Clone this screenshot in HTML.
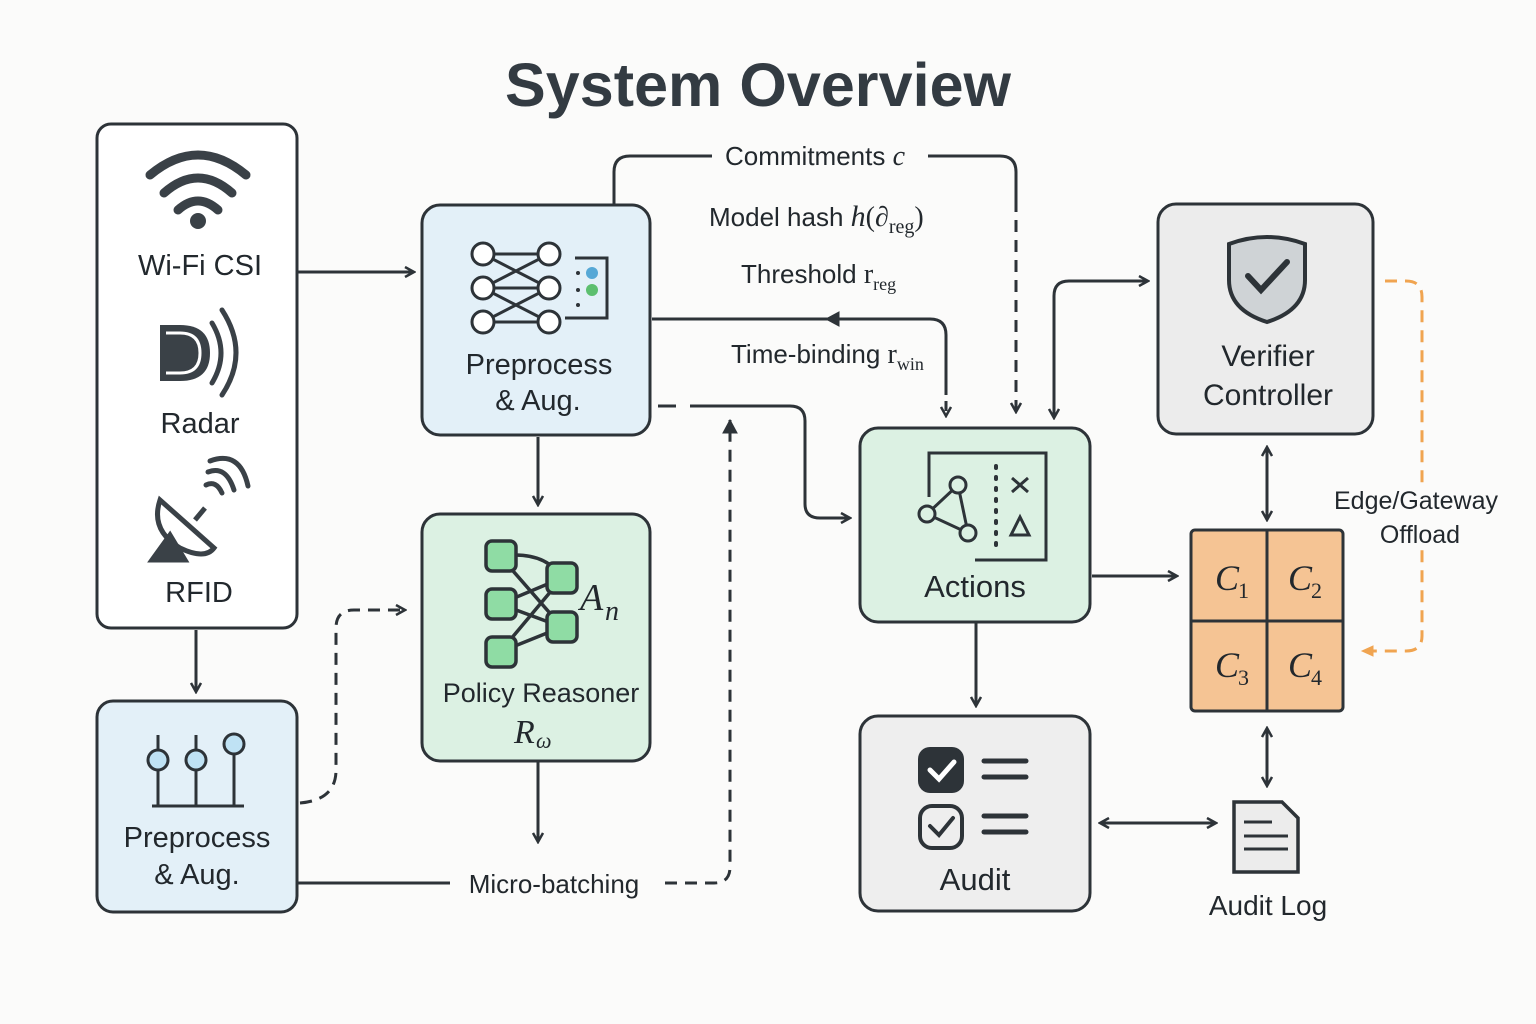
<!DOCTYPE html>
<html><head><meta charset="utf-8"><style>
html,body{margin:0;padding:0;background:#fbfbfa;}
svg{display:block}
text{font-family:"Liberation Sans",sans-serif;fill:#22282d}
.m{font-family:"Liberation Serif",serif;font-style:italic}
.r{font-family:"Liberation Serif",serif;font-style:normal}
</style></head><body>
<svg width="1536" height="1024" viewBox="0 0 1536 1024" xmlns="http://www.w3.org/2000/svg">
<defs>
<marker id="a" viewBox="0 0 12 12" refX="10" refY="6" markerWidth="12" markerHeight="12" markerUnits="userSpaceOnUse" orient="auto-start-reverse">
<path d="M1,1 L10,6 L1,11" fill="none" stroke="#2d3338" stroke-width="2.5"/></marker>
<marker id="t" viewBox="0 0 14 14" refX="12" refY="7" markerWidth="16" markerHeight="16" markerUnits="userSpaceOnUse" orient="auto-start-reverse">
<path d="M0,0 L13,7 L0,14Z" fill="#2d3338"/></marker>
<marker id="o" viewBox="0 0 12 12" refX="10" refY="6" markerWidth="14" markerHeight="14" markerUnits="userSpaceOnUse" orient="auto">
<path d="M0,1 L11,6 L0,11Z" fill="#f0a450"/></marker>
</defs>
<rect width="1536" height="1024" fill="#fbfbfa"/>
<text x="758" y="106" text-anchor="middle" font-size="61" font-weight="bold" style="fill:#333b42" textLength="506">System Overview</text>

<g stroke="#2d3338" stroke-width="3" fill="none">
<rect x="97" y="124" width="200" height="504" rx="14" fill="#fff"/>
<rect x="422" y="205" width="228" height="230" rx="18" fill="#e3f0f8"/>
<rect x="422" y="514" width="228" height="247" rx="18" fill="#dcf1e3"/>
<rect x="97" y="701" width="200" height="211" rx="16" fill="#e3f0f8"/>
<rect x="860" y="428" width="230" height="194" rx="18" fill="#dcf1e3"/>
<rect x="860" y="716" width="230" height="195" rx="18" fill="#eeeeee"/>
<rect x="1158" y="204" width="215" height="230" rx="18" fill="#ececec"/>
<rect x="1191" y="530" width="152" height="181" rx="4" fill="#f5c494"/>
<line x1="1267" y1="530" x2="1267" y2="711"/><line x1="1191" y1="621" x2="1343" y2="621"/>
</g>

<g stroke="#2d3338" stroke-width="3" fill="none">
<line x1="298" y1="272" x2="414" y2="272" marker-end="url(#a)"/>
<path d="M614,205 V172 Q614,156 630,156 H712"/>
<path d="M928,156 H1000 Q1016,156 1016,172 V200"/>
<path d="M1016,200 V412" stroke-dasharray="12,8" marker-end="url(#a)"/>
<path d="M652,319 H930 Q946,319 946,335 V385"/>
<path d="M946,385 V416" stroke-dasharray="10,6" marker-end="url(#a)"/>
<line x1="840" y1="319" x2="826" y2="319" marker-end="url(#t)"/>
<path d="M658,406 H676" />
<path d="M690,406 H790 Q805,406 805,421 V504 Q805,518 820,518 H850" marker-end="url(#a)"/>
<path d="M665,883 H714 Q730,883 730,867 V420" stroke-dasharray="12,8" marker-end="url(#t)"/>
<line x1="298" y1="883" x2="450" y2="883"/>
<line x1="538" y1="437" x2="538" y2="505" marker-end="url(#a)"/>
<line x1="538" y1="762" x2="538" y2="842" marker-end="url(#a)"/>
<line x1="196" y1="630" x2="196" y2="692" marker-end="url(#a)"/>
<path d="M300,803 Q336,800 336,770 V628 Q336,610 354,610 H405" stroke-dasharray="12,8" marker-end="url(#a)"/>
<path d="M1054,418 V296 Q1054,281 1069,281 H1148" marker-start="url(#a)" marker-end="url(#a)"/>
<line x1="1092" y1="576" x2="1177" y2="576" marker-end="url(#a)"/>
<line x1="976" y1="623" x2="976" y2="706" marker-end="url(#a)"/>
<line x1="1267" y1="447" x2="1267" y2="520" marker-start="url(#a)" marker-end="url(#a)"/>
<line x1="1267" y1="728" x2="1267" y2="786" marker-start="url(#a)" marker-end="url(#a)"/>
<line x1="1100" y1="823" x2="1216" y2="823" marker-start="url(#a)" marker-end="url(#a)"/>
</g>
<path d="M1385,281 H1406 Q1422,281 1422,297 V636 Q1422,651 1406,651 H1362" fill="none" stroke="#f0a450" stroke-width="3" stroke-dasharray="12,8" marker-end="url(#o)"/>
<rect x="1405" y="484" width="34" height="66" fill="#fbfbfa"/>

<text x="725" y="165" font-size="26">Commitments <tspan class="m" font-size="28">c</tspan></text>
<text x="709" y="226" font-size="26">Model hash <tspan class="m" font-size="30">h</tspan><tspan class="r" font-size="28">(</tspan><tspan class="m" font-size="28">∂</tspan><tspan class="r" font-size="20" dy="7">reg</tspan><tspan class="r" font-size="28" dy="-7">)</tspan></text>
<text x="741" y="283" font-size="26">Threshold <tspan class="r" font-size="28">r</tspan><tspan class="r" font-size="18" dy="7">reg</tspan></text>
<text x="731" y="363" font-size="26">Time-binding <tspan class="r" font-size="28">r</tspan><tspan class="r" font-size="18" dy="7">win</tspan></text>
<text x="554" y="893" font-size="26" text-anchor="middle">Micro-batching</text>
<text x="1416" y="509" font-size="25" text-anchor="middle">Edge/Gateway</text>
<text x="1420" y="543" font-size="25" text-anchor="middle">Offload</text>

<text x="200" y="275" font-size="29" text-anchor="middle">Wi-Fi CSI</text>
<text x="200" y="433" font-size="29" text-anchor="middle">Radar</text>
<text x="199" y="602" font-size="29" text-anchor="middle">RFID</text>
<text x="539" y="374" font-size="29" text-anchor="middle">Preprocess</text>
<text x="538" y="410" font-size="29" text-anchor="middle">&amp; Aug.</text>
<text x="541" y="702" font-size="27" text-anchor="middle">Policy Reasoner</text>
<text x="514" y="743" class="m" font-size="34">R</text><text x="536" y="748" class="m" font-size="22">ω</text>
<text x="580" y="610" class="m" font-size="38">A</text><text x="605" y="620" class="m" font-size="28">n</text>
<text x="197" y="847" font-size="29" text-anchor="middle">Preprocess</text>
<text x="197" y="884" font-size="29" text-anchor="middle">&amp; Aug.</text>
<text x="975" y="597" font-size="31" text-anchor="middle">Actions</text>
<text x="975" y="890" font-size="31" text-anchor="middle">Audit</text>
<text x="1268" y="366" font-size="30" text-anchor="middle">Verifier</text>
<text x="1268" y="405" font-size="30" text-anchor="middle">Controller</text>
<text x="1268" y="915" font-size="28" text-anchor="middle">Audit Log</text>
<text x="1215" y="590" class="m" font-size="36">C</text><text x="1238" y="598" class="r" font-size="22">1</text>
<text x="1288" y="590" class="m" font-size="36">C</text><text x="1311" y="598" class="r" font-size="22">2</text>
<text x="1215" y="677" class="m" font-size="36">C</text><text x="1238" y="685" class="r" font-size="22">3</text>
<text x="1288" y="677" class="m" font-size="36">C</text><text x="1311" y="685" class="r" font-size="22">4</text>

<g stroke="#3a4147" fill="none" stroke-width="9" stroke-linecap="round">
<path d="M150,175 Q198,135 246,175"/><path d="M164,193 Q198,163 232,193"/><path d="M178,210 Q198,192 218,210"/>
</g>
<circle cx="198" cy="221" r="8" fill="#3a4147"/>
<path d="M160,325 H180 Q210,325 210,353 Q210,381 180,381 H160Z" fill="#3a4147"/>
<path d="M166,333 H180 Q200,333 200,353 Q200,373 180,373 H166" fill="none" stroke="#fff" stroke-width="3"/>
<g stroke="#3a4147" fill="none" stroke-width="5" stroke-linecap="round">
<path d="M212,323 Q230,353 212,383"/><path d="M222,310 Q250,353 222,395"/>
<path d="M206,485 Q216,480 222,493"/><path d="M208,472 Q226,465 234,490"/><path d="M210,461 Q240,450 248,486"/>
</g>
<path d="M160,500 Q150,530 180,548 Q205,560 214,548Z" fill="none" stroke="#3a4147" stroke-width="5"/>
<path d="M152,560 L170,535 L185,560Z M195,520 L205,508" fill="#3a4147" stroke="#3a4147" stroke-width="5"/>

<g stroke="#2d3338" stroke-width="3" fill="none">
<path d="M483,254 L549,254 M483,254 L549,288 M483,288 L549,254 M483,288 L549,322 M483,322 L549,288 M483,322 L549,322 M483,288 L549,288"/>
<circle cx="483" cy="254" r="11" fill="#fff"/><circle cx="483" cy="288" r="11" fill="#fff"/><circle cx="483" cy="322" r="11" fill="#fff"/>
<circle cx="549" cy="254" r="11" fill="#fff"/><circle cx="549" cy="288" r="11" fill="#fff"/><circle cx="549" cy="322" r="11" fill="#fff"/>
<path d="M575,258 H607 V318 H565"/>
</g>
<circle cx="592" cy="273" r="6" fill="#56a8d6"/><circle cx="592" cy="290" r="6" fill="#5cbf6f"/>
<circle cx="578" cy="273" r="2" fill="#2d3338"/><circle cx="578" cy="290" r="2" fill="#2d3338"/><circle cx="578" cy="305" r="2" fill="#2d3338"/>

<g stroke="#2d3338" stroke-width="3.5" fill="none">
<path d="M500,556 Q545,550 562,578 M500,604 L562,627 M500,604 L562,578 M500,652 L562,627 M500,652 L562,578 M500,556 L562,627"/>
<g fill="#8fdca4"><rect x="486" y="541" width="30" height="30" rx="6"/><rect x="486" y="589" width="30" height="30" rx="6"/><rect x="486" y="637" width="30" height="30" rx="6"/><rect x="547" y="563" width="30" height="30" rx="6"/><rect x="547" y="612" width="30" height="30" rx="6"/></g>
</g>

<g stroke="#2d3338" stroke-width="3" fill="none">
<path d="M929,497 V453 H1046 V560 H975"/>
<path d="M958,485 L927,514 L968,533Z"/>
<circle cx="958" cy="485" r="8" fill="#dcf1e3"/><circle cx="927" cy="514" r="8" fill="#dcf1e3"/><circle cx="968" cy="533" r="8" fill="#dcf1e3"/>
<path d="M996,466 V550" stroke-dasharray="2,9" stroke-width="4" stroke-linecap="round"/>
<path d="M1012,478 L1028,492 M1028,478 L1012,492 M1020,517 L1011,535 H1029Z"/>
</g>

<path d="M1229,244 Q1267,230 1305,244 V280 Q1305,310 1267,322 Q1229,310 1229,280Z" fill="#cfd3d6" stroke="#2d3338" stroke-width="4"/>
<path d="M1248,276 L1261,290 L1287,262" fill="none" stroke="#2d3338" stroke-width="6" stroke-linecap="round"/>

<rect x="918" y="747" width="46" height="46" rx="12" fill="#2d3338"/>
<path d="M930,770 L939,779 L954,762" fill="none" stroke="#fff" stroke-width="5" stroke-linecap="round"/>
<rect x="920" y="806" width="42" height="42" rx="12" fill="none" stroke="#2d3338" stroke-width="4"/>
<path d="M930,826 L939,835 L953,818" fill="none" stroke="#2d3338" stroke-width="4" stroke-linecap="round"/>
<g stroke="#2d3338" stroke-width="5" stroke-linecap="round"><line x1="984" y1="761" x2="1026" y2="761"/><line x1="984" y1="777" x2="1026" y2="777"/><line x1="984" y1="816" x2="1026" y2="816"/><line x1="984" y1="832" x2="1026" y2="832"/></g>

<path d="M1234,802 H1282 L1298,818 V872 H1234Z" fill="#ececec" stroke="#2d3338" stroke-width="3.5"/>
<g stroke="#2d3338" stroke-width="3"><line x1="1244" y1="822" x2="1272" y2="822"/><line x1="1244" y1="836" x2="1288" y2="836"/><line x1="1244" y1="849" x2="1288" y2="849"/></g>

<g stroke="#2d3338" stroke-width="3" fill="#bfe2f4">
<line x1="152" y1="806" x2="244" y2="806"/>
<line x1="158" y1="770" x2="158" y2="806"/><line x1="196" y1="770" x2="196" y2="806"/><line x1="234" y1="754" x2="234" y2="806"/>
<line x1="158" y1="735" x2="158" y2="750"/><line x1="196" y1="735" x2="196" y2="750"/>
<circle cx="158" cy="760" r="10"/><circle cx="196" cy="760" r="10"/><circle cx="234" cy="744" r="10"/>
</g>
</svg>
</body></html>
